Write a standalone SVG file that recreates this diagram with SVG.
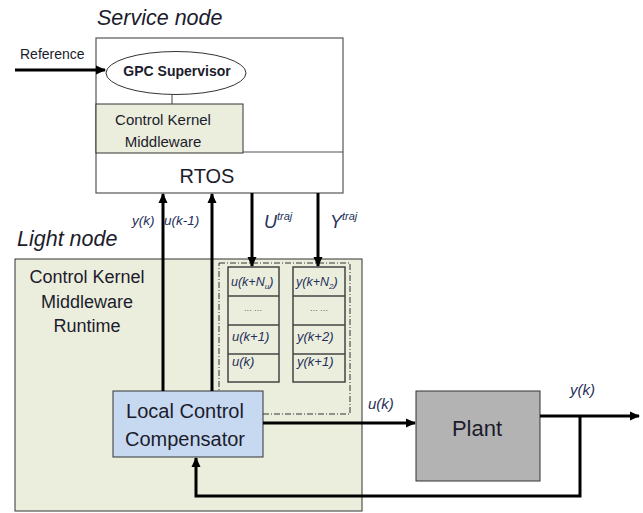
<svg xmlns="http://www.w3.org/2000/svg" width="643" height="513" viewBox="0 0 643 513">
<defs>
<marker id="ah" markerWidth="10" markerHeight="10" refX="9" refY="5" orient="auto" markerUnits="userSpaceOnUse" viewBox="0 0 10 10">
<path d="M0,0.5 L10,5 L0,9.5 Z" fill="#000"/>
</marker>
<style>
text{font-family:"Liberation Sans",Arial,sans-serif;fill:#1c1c2c}
.lab{font-style:italic;fill:#26305a}
.ln{fill:none;stroke:#000;stroke-width:3}
.box{stroke:#333;stroke-width:1}
.cell{fill:#ebeedd;stroke:#444;stroke-width:1.5}
.ctr{text-anchor:middle}
</style>
</defs>
<rect width="643" height="513" fill="#fff"/>

<g id="light-node">
<rect x="15" y="259" width="347" height="252" fill="#ebeedd" class="box"/>
<text x="17" y="246" font-size="21.5" font-style="italic" fill="#000">Light node</text>
<text class="ctr" x="87" y="283" font-size="18">Control Kernel</text>
<text class="ctr" x="87" y="308" font-size="18">Middleware</text>
<text class="ctr" x="87" y="332" font-size="18">Runtime</text>
<rect x="219" y="263" width="131" height="151" fill="none" stroke="#333" stroke-width="1" stroke-dasharray="6,2,1,2"/>
</g>

<g id="u-traj-buffer">
<rect class="cell" x="228" y="267" width="51" height="115"/>
<line x1="228" y1="296" x2="279" y2="296" stroke="#444" stroke-width="1.5"/>
<line x1="228" y1="325" x2="279" y2="325" stroke="#444" stroke-width="1.5"/>
<line x1="228" y1="354" x2="279" y2="354" stroke="#444" stroke-width="1.5"/>
<text class="lab" x="231" y="286" font-size="12.5">u(k+N<tspan font-size="8" dy="3">u</tspan><tspan dy="-3">)</tspan></text>
<text x="253" y="313" font-size="8" text-anchor="middle" fill="#888">··· ···</text>
<text class="lab" x="232" y="341" font-size="13">u(k+1)</text>
<text class="lab" x="232" y="366" font-size="13">u(k)</text>
</g>

<g id="y-traj-buffer">
<rect class="cell" x="293" y="267" width="52" height="115"/>
<line x1="293" y1="296" x2="345" y2="296" stroke="#444" stroke-width="1.5"/>
<line x1="293" y1="325" x2="345" y2="325" stroke="#444" stroke-width="1.5"/>
<line x1="293" y1="354" x2="345" y2="354" stroke="#444" stroke-width="1.5"/>
<text class="lab" x="296" y="286" font-size="12.5">y(k+N<tspan font-size="8" dy="3">2</tspan><tspan dy="-3">)</tspan></text>
<text x="319" y="313" font-size="8" text-anchor="middle" fill="#888">··· ···</text>
<text class="lab" x="297" y="341" font-size="13">y(k+2)</text>
<text class="lab" x="297" y="366" font-size="13">y(k+1)</text>
</g>

<g id="service-node">
<text x="97" y="25" font-size="21.5" font-style="italic" fill="#000">Service node</text>
<rect x="96" y="38" width="247" height="155" fill="#fff" stroke="#555" stroke-width="1.2"/>
<line x1="96" y1="152" x2="343" y2="152" stroke="#555" stroke-width="1.2"/>
<text class="ctr" x="207" y="183" font-size="20" fill="#000">RTOS</text>
</g>

<g id="ck-middleware">
<rect x="96" y="104" width="147" height="49" fill="#ebeedd" stroke="#333" stroke-width="1"/>
<text class="ctr" x="163" y="125" font-size="15">Control Kernel</text>
<text class="ctr" x="163" y="147" font-size="15">Middleware</text>
</g>

<g id="gpc-supervisor">
<ellipse cx="176" cy="73" rx="70" ry="21.5" fill="#fff" stroke="#333" stroke-width="1"/>
<text class="ctr" x="177" y="76" font-size="14" font-weight="bold" fill="#000">GPC Supervisor</text>
</g>

<g id="local-control-compensator">
<rect x="113" y="391" width="150" height="66" fill="#c6d9f1" class="box"/>
<text class="ctr" x="185" y="418" font-size="20">Local Control</text>
<text class="ctr" x="185" y="446" font-size="20">Compensator</text>
</g>

<g id="plant">
<rect x="416" y="391" width="124" height="90" fill="#b3b3b3" class="box"/>
<text class="ctr" x="477" y="436" font-size="22">Plant</text>
</g>

<g id="connectors">
<line x1="172" y1="95" x2="172" y2="104" stroke="#444" stroke-width="1"/>
<line class="ln" x1="15" y1="70" x2="105" y2="70" marker-end="url(#ah)"/>
<line class="ln" x1="163" y1="391" x2="163" y2="194" marker-end="url(#ah)"/>
<line class="ln" x1="212" y1="391" x2="212" y2="194" marker-end="url(#ah)"/>
<line class="ln" x1="252" y1="193" x2="252" y2="266" marker-end="url(#ah)"/>
<line class="ln" x1="318" y1="193" x2="318" y2="266" marker-end="url(#ah)"/>
<line class="ln" x1="263" y1="423" x2="415" y2="423" marker-end="url(#ah)"/>
<line class="ln" x1="540" y1="416" x2="639" y2="416" marker-end="url(#ah)"/>
<polyline class="ln" points="580,416 580,496 196,496 196,458" marker-end="url(#ah)"/>
</g>

<g id="labels">
<text x="20" y="59" font-size="14">Reference</text>
<text class="lab" x="132" y="225" font-size="13.5">y(k)</text>
<text class="lab" x="164" y="225" font-size="13.5">u(k-1)</text>
<text class="lab" x="264" y="228" font-size="18">U<tspan font-size="11" dy="-8">traj</tspan></text>
<text class="lab" x="330" y="228" font-size="18">Y<tspan font-size="11" dy="-8">traj</tspan></text>
<text class="lab" x="368" y="409" font-size="15">u(k)</text>
<text class="lab" x="570" y="395" font-size="15">y(k)</text>
</g>
</svg>
